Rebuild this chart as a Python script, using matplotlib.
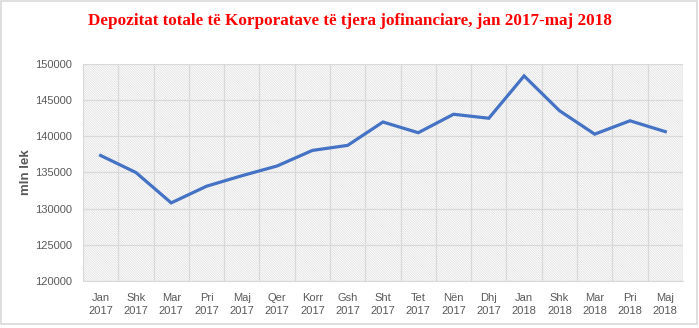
import matplotlib
matplotlib.use("Agg")
import matplotlib.pyplot as plt
from matplotlib.patches import Rectangle
import numpy as np

# ------------------------------------------------------------------
#  DATA
# ------------------------------------------------------------------
months = ['Jan', 'Shk', 'Mar', 'Pri', 'Maj', 'Qer', 'Korr', 'Gsh', 'Sht',
          'Tet', 'Nën', 'Dhj', 'Jan', 'Shk', 'Mar', 'Pri', 'Maj']
years = ['2017'] * 12 + ['2018'] * 5
deposits = [137350, 135000, 130800, 133100, 134550, 135900, 138050, 138750,
            141980, 140500, 143050, 142500, 148350, 143550, 140300, 142150,
            140650]
y_ticks = [120000, 125000, 130000, 135000, 140000, 145000, 150000]

title_text = 'Depozitat totale të Korporatave të tjera jofinanciare, jan 2017-maj 2018'
y_label = 'mln lek'

# ------------------------------------------------------------------
#  STYLE
# ------------------------------------------------------------------
plt.rcParams['hatch.linewidth'] = 0.5
plt.rcParams['hatch.color'] = '#dcdcdc'
tick_color = '#595959'
grid_color = '#d9d9d9'
line_color = '#4472C4'

fig = plt.figure(figsize=(6.99, 3.28), dpi=100)
fig.patch.set_facecolor('white')

# thin frame round the whole chart area
fig.patches.append(Rectangle((0.001, 0.012), 0.996, 0.985, transform=fig.transFigure,
                             facecolor='none', edgecolor='#d9d9d9', linewidth=1.2))

ax = fig.add_axes([0.1187, 0.1433, 0.8583, 0.6616])

# hatched plot area
ax.add_patch(Rectangle((0, 0), 1, 1, transform=ax.transAxes, facecolor='white',
                       edgecolor='#dcdcdc', hatch='\\' * 14, linewidth=0, zorder=0))

x = np.arange(len(months))
ax.plot(x, deposits, color=line_color, linewidth=2.3, solid_joinstyle='miter', zorder=3)

ax.set_xlim(-0.5, len(months) - 0.5)
ax.set_ylim(120000, 150000)
ax.set_yticks(y_ticks)
ax.set_yticklabels([str(v) for v in y_ticks])
ax.set_xticks(x)
ax.set_xticklabels([m + '\n' + y for m, y in zip(months, years)], linespacing=1.3)
ax.set_xticks(np.arange(-0.5, len(months), 1), minor=True)

ax.grid(axis='y', which='major', color=grid_color, linewidth=0.9, zorder=1)
ax.grid(axis='x', which='minor', color=grid_color, linewidth=0.9, zorder=1)
ax.grid(axis='x', which='major', visible=False)
ax.set_axisbelow(True)

for side in ['top', 'right', 'left']:
    ax.spines[side].set_visible(False)
ax.spines['bottom'].set_color(grid_color)

ax.tick_params(axis='both', which='both', length=0, colors=tick_color, labelsize=8)
ax.tick_params(axis='y', pad=8)
ax.tick_params(axis='x', pad=9)
for lab in ax.get_xticklabels() + ax.get_yticklabels():
    lab.set_fontfamily('Liberation Sans')

ax.set_ylabel(y_label, fontsize=9.5, fontweight='bold', color=tick_color,
              fontfamily='Liberation Sans', labelpad=2)

fig.text(0.5, 0.937, title_text, ha='center', va='center', color='#ff0000',
         fontsize=12.3, fontweight='bold', fontfamily='Liberation Serif')

fig.savefig('out.png', dpi=100)
